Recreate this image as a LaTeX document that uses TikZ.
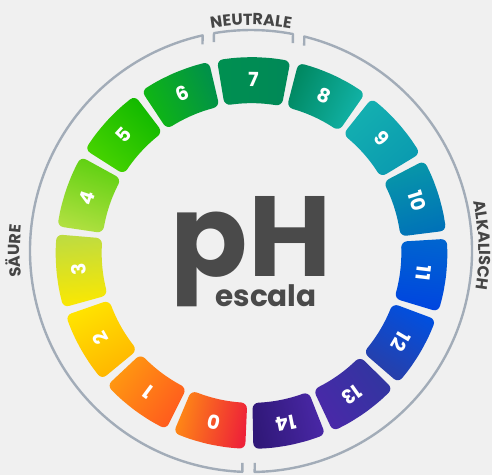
\documentclass[tikz,border=0pt]{standalone}
\usepackage{fontspec}
\setmainfont{Poppins}
\usetikzlibrary{decorations.text}
\definecolor{bg}{HTML}{F0F0F0}
\definecolor{ringgray}{HTML}{A2ACB8}
\definecolor{labelgray}{HTML}{454545}
\definecolor{phgray}{HTML}{4A4A4A}
\newcommand{\labelfont}{\bfseries\fontsize{16}{16}\selectfont\color{labelgray}}
\tikzset{
  ring/.style={draw=ringgray, line width=2.4pt, line join=round},
  digit/.style={text=white, font=\bfseries\fontsize{19.5}{19.5}\selectfont, inner sep=0pt},
  tile/.style={rounded corners=6pt},
}
\begin{document}
\begin{tikzpicture}[x=1pt,y=1pt]
\fill[bg] (0,0) rectangle (492,475);
\useasboundingbox (0,0) rectangle (492,475);
% tiles
\begin{scope}[shift={(251.5,222)}]
\foreach \i/\lo/\hi in {0/EE2238/FF8C14, 1/FF5A1E/FF9A10, 2/FFB400/FFE400, 3/FCE800/BEDC40,
  4/B0E040/5CD010, 5/48D400/10B800, 6/10B810/00904A, 7/009050/008858,
  8/008860/12B4AA, 9/14B0B0/0A9AB0, 10/0898A8/0072B8, 11/0064D0/0044E0,
  12/0050E0/2A3EA6, 13/3036A0/4A28A8, 14/4A28A8/301878}{
  \pgfmathsetmacro{\th}{89.35+(7-\i)*24}
  \definecolor{tlo}{HTML}{\lo}\definecolor{thi}{HTML}{\hi}
  \shade[tile, top color=tlo, bottom color=thi, shading angle=\th]
    ({\th}:196) -- ({\th+5.4}:196) -- ({\th+10.8}:196) -- ({\th+11}:150)
    -- ({\th+5.5}:150) -- ({\th}:150) -- ({\th-5.5}:150) -- ({\th-11}:150)
    -- ({\th-10.8}:196) -- ({\th-5.4}:196) -- cycle;
  \node[digit, rotate=\th-90] (d\i) at ({\th}:173.5) {\i};
}
\end{scope}
% rings
\begin{scope}[shift={(251,224)}, rotate=-0.65]
\draw[ring] (100.3:221) ++(0,-9) -- (100.3:221) arc[start angle=100.3, end angle=79.7, radius=221] -- ++(0,-9);
\draw[ring] (103.3:221) ++(0,-9) -- (103.3:221) arc[start angle=103.3, end angle=268.4, radius=221] -- ++(0,9);
\draw[ring] (76.7:221) ++(0,-9) -- (76.7:221) arc[start angle=76.7, end angle=-88.4, radius=221] -- ++(0,9);
\end{scope}
% labels on the ring
\begin{scope}[shift={(251,224)}]
\path[decorate, decoration={text along path, text align=center, text={|\labelfont|NEUTRALE}}]
  (120:226) arc[start angle=120, end angle=60, radius=226];
\path[decorate, decoration={text along path, text align=center, text={|\labelfont|SÄURE}}]
  (210:231) arc[start angle=210, end angle=150, radius=231];
\path[decorate, decoration={text along path, text align=center, text={|\labelfont|ALKALISCH}}]
  (31.5:228) arc[start angle=31.5, end angle=-28.5, radius=228];
\end{scope}
% centre text
\node[text=phgray, font=\bfseries\fontsize{114}{114}\selectfont, anchor=base, inner sep=0pt] (ph) at (251,199) {pH};
\node[text=phgray, font=\bfseries\fontsize{29.5}{29.5}\selectfont, anchor=base, inner sep=0pt] (esc) at (266,168.3) {escala};
\end{tikzpicture}
\end{document}
